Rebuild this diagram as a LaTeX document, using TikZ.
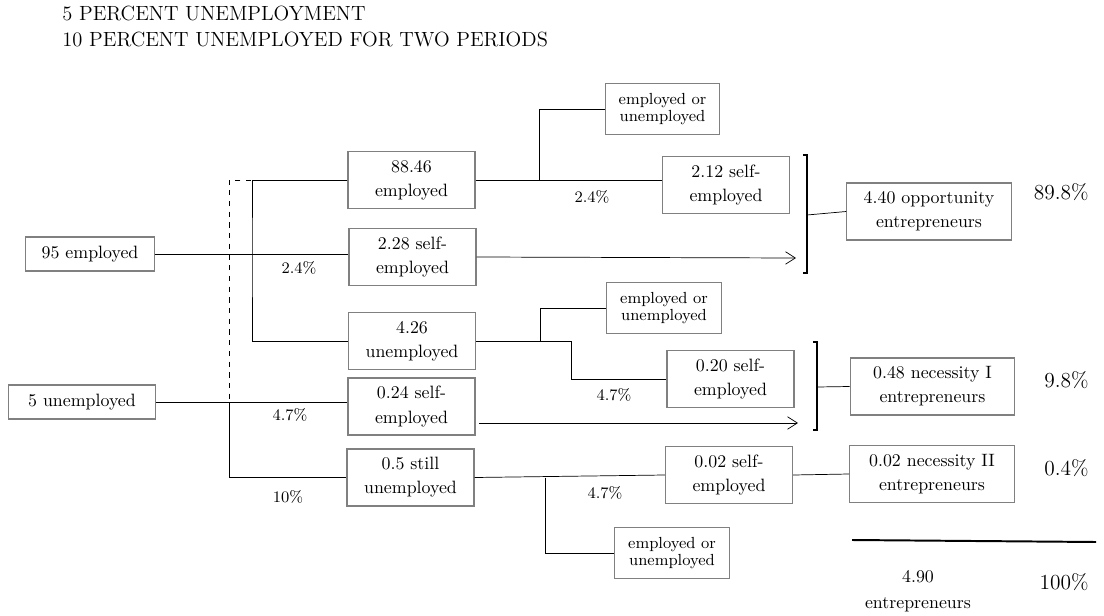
\documentclass[tikz,border=0pt]{standalone}
\usepackage{tikz}
\usetikzlibrary{arrows.meta}
\definecolor{boxgray}{rgb}{0.5,0.5,0.5}

\begin{document}
\begin{tikzpicture}[x=0.56pt,y=-0.56pt,
  box/.style={draw=boxgray,line width=.7pt,align=center,inner sep=0pt,
    font=\fontsize{10}{13.5}\selectfont},
  bigbox/.style={box,minimum width=71pt,minimum height=32pt},
  endbox/.style={box,minimum width=92pt,minimum height=32pt},
  smallbox/.style={box,minimum width=64pt,minimum height=28.5pt,
    font=\fontsize{9}{10}\selectfont},
  pct/.style={font=\small},
  share/.style={font=\large,anchor=east},
  flow/.style={-{Straight Barb[length=5.5pt,width=7pt]}}]
\useasboundingbox (0,0) rectangle (1104,616);

% title
\node[anchor=base west,inner sep=0pt,font=\fontsize{11.5}{14}\selectfont] (title1) at (62,21) {5 PERCENT UNEMPLOYMENT};
\node[anchor=base west,inner sep=0pt,font=\fontsize{11.5}{14}\selectfont] (title2) at (62,46) {10 PERCENT UNEMPLOYED FOR TWO PERIODS};

% first period
\node[box,minimum width=72pt,minimum height=19pt] (emp95) at (90,254) {95 employed};
\node[box,minimum width=82pt,minimum height=19pt] (unemp5) at (82,402) {5 unemployed};

% second period
\node[bigbox] (emp8846) at (411.5,180) {88.46\\employed};
\node[bigbox] (self228) at (412.5,257) {2.28 self-\\employed};
\node[bigbox] (unemp426) at (412,341) {4.26\\unemployed};
\node[bigbox] (self024) at (411.5,406.5) {0.24 self-\\employed};
\node[bigbox] (still05) at (410.5,477.5) {0.5 still\\unemployed};

% third period
\node[smallbox] (eoutop) at (662.5,109) {employed or\\unemployed};
\node[bigbox] (self212) at (726,185) {2.12 self-\\employed};
\node[smallbox] (eoumid) at (664,308) {employed or\\unemployed};
\node[bigbox] (self020) at (730.5,379) {0.20 self-\\employed};
\node[bigbox] (self002) at (729,475) {0.02 self-\\employed};
\node[smallbox] (eoubot) at (672,553) {employed or\\unemployed};

% entrepreneurs
\node[endbox] (opp440) at (929,211.5) {4.40 opportunity\\entrepreneurs};
\node[endbox] (nec048) at (932.5,386.5) {0.48 necessity I\\entrepreneurs};
\node[endbox] (nec002) at (932,474) {0.02 necessity II\\entrepreneurs};

% branch points
\coordinate (j1) at (252,254);
\coordinate (j2) at (229,402);
\coordinate (j3) at (539,180);
\coordinate (j4) at (540,341);
\coordinate (j5) at (571,341);
\coordinate (j6) at (545,477.5);

\draw (emp95.east) -- (emp95.east -| self228.west);
\draw (emp8846.west) -| (j1) |- (unemp426.west);
\draw[dashed] (emp8846.west) -| (j2);
\draw (unemp5.east) -- (unemp5.east -| self024.west);
\draw (j2) |- (still05.west);

\draw (emp8846.east) -- (emp8846.east -| self212.west);
\draw (j3) |- (eoutop.west);
\draw (unemp426.east) -| (j5) |- (self020.west);
\draw (j4) |- (eoumid.west);
\draw (still05.east) -- (self002.west);
\draw (j6) |- (eoubot.west);
\draw (self002.east) -- (nec002.west);

% self-employed who stay so
\coordinate (a1) at (796,258);
\coordinate (s2) at (479,423);
\coordinate (a2) at (798,423);
\draw[flow] (self228.east) -- (a1);
\draw[flow] (s2) -- (a2);

% brackets
\draw[line width=.7pt] (803,155) -- (807,155) -- (807,273) -- (803,273);
\draw (807,215) -- (opp440.west);
\draw[line width=.7pt] (813,342) -- (817,342) -- (817,430) -- (813,430);
\draw (817,387) -- (nec048.west);

% rates
\node[pct] (r1) at (299,268) {2.4\%};
\node[pct] (r2) at (290,415) {4.7\%};
\node[pct] (r3) at (288,497) {10\%};
\node[pct] (r4) at (592,197) {2.4\%};
\node[pct] (r5) at (614,395) {4.7\%};
\node[pct] (r6) at (605,493) {4.7\%};

% shares
\node[share] (sh1) at (1095,192) {89.8\%};
\node[share] (sh2) at (1095,380) {9.8\%};
\node[share] (sh3) at (1095,468) {0.4\%};
\node[share] (sh4) at (1095,582) {100\%};

% total
\draw[line width=1.1pt] (852,540) -- (1096,542);
\node[align=center,font=\fontsize{10}{14.5}\selectfont] (total) at (918,591) {4.90\\entrepreneurs};
\end{tikzpicture}
\end{document}
